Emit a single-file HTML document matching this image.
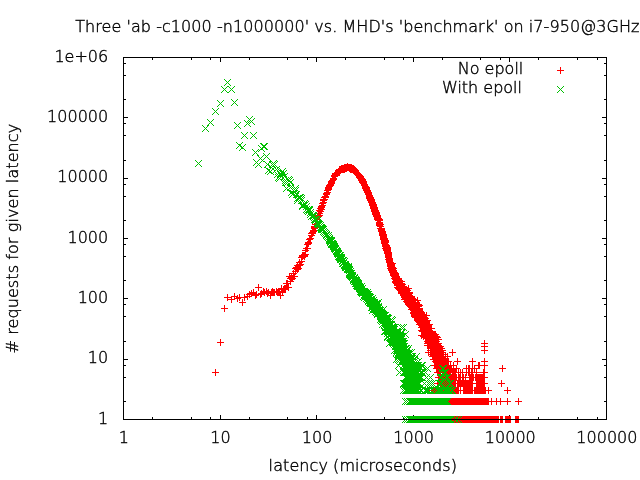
<!DOCTYPE html>
<html><head><meta charset="utf-8"><title>Latency plot</title>
<style>
html,body{margin:0;padding:0;background:#fff;}
body{width:640px;height:480px;overflow:hidden;}
svg{display:block;}
text{font-family:"DejaVu Sans","Liberation Sans",sans-serif;font-size:16px;fill:#000;font-weight:200;stroke:#000;stroke-width:0.4px;}
</style></head><body>
<svg width="640" height="480" viewBox="0 0 640 480">
<rect width="640" height="480" fill="#fff"/>
<g shape-rendering="crispEdges" fill="none" stroke="#000" stroke-width="1"><path d="M152.5 419v-2M152.5 58v2M191.5 419v-2M191.5 58v2M210.5 419v-2M210.5 58v2M220.5 419v-4M220.5 58v4M249.5 419v-2M249.5 58v2M287.5 419v-2M287.5 58v2M307.5 419v-2M307.5 58v2M316.5 419v-4M316.5 58v4M345.5 419v-2M345.5 58v2M384.5 419v-2M384.5 58v2M403.5 419v-2M403.5 58v2M413.5 419v-4M413.5 58v4M442.5 419v-2M442.5 58v2M480.5 419v-2M480.5 58v2M500.5 419v-2M500.5 58v2M509.5 419v-4M509.5 58v4M538.5 419v-2M538.5 58v2M577.5 419v-2M577.5 58v2M597.5 419v-2M597.5 58v2M124 401.5h2M606 401.5h-2M124 377.5h2M606 377.5h-2M124 365.5h2M606 365.5h-2M124 359.5h4M606 359.5h-4M124 341.5h2M606 341.5h-2M124 316.5h2M606 316.5h-2M124 304.5h2M606 304.5h-2M124 298.5h4M606 298.5h-4M124 280.5h2M606 280.5h-2M124 256.5h2M606 256.5h-2M124 244.5h2M606 244.5h-2M124 238.5h4M606 238.5h-4M124 220.5h2M606 220.5h-2M124 196.5h2M606 196.5h-2M124 184.5h2M606 184.5h-2M124 178.5h4M606 178.5h-4M124 160.5h2M606 160.5h-2M124 135.5h2M606 135.5h-2M124 123.5h2M606 123.5h-2M124 117.5h4M606 117.5h-4M124 99.5h2M606 99.5h-2M124 75.5h2M606 75.5h-2M124 63.5h2M606 63.5h-2"/></g>
<g id="labels">
<text x="75.2" y="32.1" textLength="564.2" lengthAdjust="spacing">Three 'ab -c1000 -n1000000' vs. MHD's 'benchmark' on i7-950@3GHz</text>
<text x="123.9" y="443.2" text-anchor="middle">1</text><text x="220.5" y="443.2" text-anchor="middle">10</text><text x="317.1" y="443.2" text-anchor="middle">100</text><text x="413.7" y="443.2" text-anchor="middle">1000</text><text x="510.3" y="443.2" text-anchor="middle">10000</text><text x="606.9" y="443.2" text-anchor="middle">100000</text>
<text x="108.2" y="423.6" text-anchor="end">1</text><text x="108.2" y="363.3" text-anchor="end">10</text><text x="108.2" y="302.9" text-anchor="end">100</text><text x="108.2" y="242.6" text-anchor="end">1000</text><text x="108.2" y="182.3" text-anchor="end">10000</text><text x="108.2" y="121.9" text-anchor="end">100000</text><text x="108.2" y="61.6" text-anchor="end">1e+06</text>
<text x="268.6" y="471" textLength="188.3" lengthAdjust="spacing">latency (microseconds)</text>
<text transform="translate(18.4,353.5) rotate(-90)" textLength="229.7" lengthAdjust="spacing"># requests for given latency</text>
<text x="523.3" y="74.4" text-anchor="end">No epoll</text>
<text x="522" y="93.4" text-anchor="end">With epoll</text>
</g>
<g shape-rendering="crispEdges" fill="none" stroke-width="1">
<path stroke="#ff0000" d="M212 372.5h7M215.5 369v7M217 342.5h7M220.5 339v7M221 308.5h7M224.5 305v7M224 297.5h7M227.5 294v7M228 299.5h7M231.5 296v7M231 296.5h7M234.5 293v7M234 298.5h7M237.5 295v7M236 297.5h7M239.5 294v7M239 302.5h7M242.5 299v7M241 297.5h7M244.5 294v7M244 296.5h7M247.5 293v7M246 294.5h7M249.5 291v7M248 293.5h7M251.5 290v7M250 292.5h7M253.5 289v7M252 295.5h7M255.5 292v7M253 294.5h7M256.5 291v7M255 287.5h7M258.5 284v7M257 294.5h7M260.5 291v7M258 293.5h7M261.5 290v7M260 291.5h7M263.5 288v7M261 292.5h7M264.5 289v7M263 291.5h7M266.5 288v7M264 293.5h7M267.5 290v7M265 292.5h7M268.5 289v7M267 295.5h7M270.5 292v7M268 292.5h7M271.5 289v7M269 291.5h7M272.5 288v7M270 292.5h7M273.5 289v7M271 292.5h7M274.5 289v7M273 291.5h7M276.5 288v7M274 292.5h7M277.5 289v7M275 291.5h7M278.5 288v7M276 291.5h7M279.5 288v7M277 295.5h7M280.5 292v7M278 288.5h7M281.5 285v7M279 292.5h7M282.5 289v7M280 289.5h7M283.5 286v7M281 288.5h7M284.5 285v7M282 288.5h7M285.5 285v7M282 289.5h7M285.5 286v7M283 283.5h7M286.5 280v7M284 283.5h7M287.5 280v7M285 287.5h7M288.5 284v7M286 276.5h7M289.5 273v7M287 278.5h7M290.5 275v7M287 281.5h7M290.5 278v7M288 277.5h7M291.5 274v7M289 278.5h7M292.5 275v7M290 276.5h7M293.5 273v7M290 273.5h7M293.5 270v7M291 276.5h7M294.5 273v7M292 271.5h7M295.5 268v7M292 268.5h7M295.5 265v7M293 267.5h7M296.5 264v7M294 269.5h7M297.5 266v7M294 265.5h7M297.5 262v7M295 268.5h7M298.5 265v7M296 265.5h7M299.5 262v7M296 262.5h7M299.5 259v7M297 264.5h7M300.5 261v7M298 261.5h7M301.5 258v7M298 257.5h7M301.5 254v7M299 255.5h7M302.5 252v7M299 256.5h7M302.5 253v7M300 255.5h7M303.5 252v7M301 256.5h7M304.5 253v7M301 255.5h7M304.5 252v7M302 254.5h7M305.5 251v7M302 250.5h7M305.5 247v7M303 248.5h7M306.5 245v7M304 248.5h7M307.5 245v7M304 244.5h7M307.5 241v7M305 243.5h7M308.5 240v7M305 242.5h7M308.5 239v7M306 239.5h7M309.5 236v7M307 238.5h7M310.5 235v7M308 235.5h7M311.5 232v7M308 233.5h7M311.5 230v7M309 233.5h7M312.5 230v7M309 232.5h7M312.5 229v7M310 231.5h7M313.5 228v7M310 230.5h7M313.5 227v7M311 228.5h7M314.5 225v7M311 227.5h7M314.5 224v7M311 226.5h7M314.5 223v7M312 226.5h7M315.5 223v7M312 224.5h7M315.5 221v7M313 224.5h7M316.5 221v7M313 221.5h7M316.5 218v7M314 221.5h7M317.5 218v7M314 219.5h7M317.5 216v7M314 217.5h7M317.5 214v7M315 216.5h7M318.5 213v7M315 215.5h7M318.5 212v7M316 215.5h7M319.5 212v7M316 213.5h7M319.5 210v7M316 210.5h7M319.5 207v7M317 211.5h7M320.5 208v7M317 208.5h7M320.5 205v7M318 209.5h7M321.5 206v7M318 207.5h7M321.5 204v7M318 206.5h7M321.5 203v7M319 205.5h7M322.5 202v7M319 203.5h7M322.5 200v7M320 202.5h7M323.5 199v7M320 199.5h7M323.5 196v7M320 200.5h7M323.5 197v7M321 199.5h7M324.5 196v7M321 197.5h7M324.5 194v7M322 197.5h7M325.5 194v7M322 196.5h7M325.5 193v7M323 194.5h7M326.5 191v7M323 193.5h7M326.5 190v7M324 192.5h7M327.5 189v7M324 190.5h7M327.5 187v7M325 189.5h7M328.5 186v7M325 188.5h7M328.5 185v7M325 187.5h7M328.5 184v7M326 186.5h7M329.5 183v7M326 185.5h7M329.5 182v7M327 185.5h7M330.5 182v7M327 184.5h7M330.5 181v7M328 182.5h7M331.5 179v7M328 183.5h7M331.5 180v7M328 181.5h7M331.5 178v7M329 180.5h7M332.5 177v7M330 179.5h7M333.5 176v7M330 178.5h7M333.5 175v7M331 176.5h7M334.5 173v7M331 175.5h7M334.5 172v7M332 175.5h7M335.5 172v7M332 174.5h7M335.5 171v7M332 173.5h7M335.5 170v7M333 173.5h7M336.5 170v7M334 172.5h7M337.5 169v7M335 171.5h7M338.5 168v7M336 172.5h7M339.5 169v7M336 171.5h7M339.5 168v7M336 169.5h7M339.5 166v7M337 170.5h7M340.5 167v7M337 169.5h7M340.5 166v7M338 169.5h7M341.5 166v7M338 168.5h7M341.5 165v7M339 168.5h7M342.5 165v7M339 169.5h7M342.5 166v7M340 168.5h7M343.5 165v7M340 169.5h7M343.5 166v7M341 168.5h7M344.5 165v7M341 167.5h7M344.5 164v7M341 169.5h7M344.5 166v7M342 167.5h7M345.5 164v7M342 168.5h7M345.5 165v7M343 168.5h7M346.5 165v7M343 167.5h7M346.5 164v7M344 167.5h7M347.5 164v7M344 166.5h7M347.5 163v7M345 167.5h7M348.5 164v7M346 167.5h7M349.5 164v7M346 168.5h7M349.5 165v7M347 168.5h7M350.5 165v7M347 167.5h7M350.5 164v7M347 169.5h7M350.5 166v7M348 168.5h7M351.5 165v7M348 169.5h7M351.5 166v7M348 167.5h7M351.5 164v7M349 169.5h7M352.5 166v7M349 168.5h7M352.5 165v7M350 168.5h7M353.5 165v7M350 169.5h7M353.5 166v7M350 170.5h7M353.5 167v7M351 169.5h7M354.5 166v7M351 170.5h7M354.5 167v7M352 170.5h7M355.5 167v7M352 171.5h7M355.5 168v7M352 172.5h7M355.5 169v7M353 172.5h7M356.5 169v7M354 173.5h7M357.5 170v7M354 174.5h7M357.5 171v7M355 175.5h7M358.5 172v7M355 174.5h7M358.5 171v7M356 176.5h7M359.5 173v7M356 175.5h7M359.5 172v7M356 177.5h7M359.5 174v7M357 176.5h7M360.5 173v7M357 177.5h7M360.5 174v7M357 178.5h7M360.5 175v7M358 179.5h7M361.5 176v7M358 178.5h7M361.5 175v7M358 180.5h7M361.5 177v7M359 179.5h7M362.5 176v7M359 180.5h7M362.5 177v7M359 181.5h7M362.5 178v7M359 182.5h7M362.5 179v7M360 181.5h7M363.5 178v7M360 183.5h7M363.5 180v7M360 182.5h7M363.5 179v7M361 184.5h7M364.5 181v7M361 185.5h7M364.5 182v7M362 187.5h7M365.5 184v7M362 186.5h7M365.5 183v7M362 188.5h7M365.5 185v7M363 189.5h7M366.5 186v7M363 188.5h7M366.5 185v7M363 187.5h7M366.5 184v7M363 190.5h7M366.5 187v7M364 190.5h7M367.5 187v7M364 191.5h7M367.5 188v7M364 192.5h7M367.5 189v7M365 192.5h7M368.5 189v7M365 193.5h7M368.5 190v7M365 194.5h7M368.5 191v7M366 195.5h7M369.5 192v7M366 196.5h7M369.5 193v7M366 198.5h7M369.5 195v7M366 197.5h7M369.5 194v7M367 198.5h7M370.5 195v7M367 197.5h7M370.5 194v7M367 199.5h7M370.5 196v7M367 200.5h7M370.5 197v7M368 200.5h7M371.5 197v7M368 201.5h7M371.5 198v7M368 199.5h7M371.5 196v7M368 202.5h7M371.5 199v7M369 203.5h7M372.5 200v7M369 202.5h7M372.5 199v7M369 204.5h7M372.5 201v7M369 205.5h7M372.5 202v7M370 205.5h7M373.5 202v7M370 204.5h7M373.5 201v7M370 206.5h7M373.5 203v7M370 207.5h7M373.5 204v7M370 208.5h7M373.5 205v7M371 208.5h7M374.5 205v7M371 207.5h7M374.5 204v7M371 209.5h7M374.5 206v7M371 210.5h7M374.5 207v7M371 211.5h7M374.5 208v7M372 210.5h7M375.5 207v7M372 211.5h7M375.5 208v7M372 212.5h7M375.5 209v7M372 213.5h7M375.5 210v7M372 214.5h7M375.5 211v7M373 213.5h7M376.5 210v7M373 212.5h7M376.5 209v7M373 214.5h7M376.5 211v7M373 215.5h7M376.5 212v7M373 216.5h7M376.5 213v7M374 216.5h7M377.5 213v7M374 215.5h7M377.5 212v7M374 217.5h7M377.5 214v7M374 218.5h7M377.5 215v7M374 219.5h7M377.5 216v7M375 218.5h7M378.5 215v7M375 219.5h7M378.5 216v7M375 220.5h7M378.5 217v7M376 219.5h7M379.5 216v7M376 220.5h7M379.5 217v7M376 222.5h7M379.5 219v7M376 223.5h7M379.5 220v7M376 225.5h7M379.5 222v7M376 224.5h7M379.5 221v7M377 224.5h7M380.5 221v7M377 226.5h7M380.5 223v7M377 228.5h7M380.5 225v7M378 228.5h7M381.5 225v7M378 229.5h7M381.5 226v7M378 230.5h7M381.5 227v7M378 231.5h7M381.5 228v7M379 231.5h7M382.5 228v7M379 234.5h7M382.5 231v7M379 233.5h7M382.5 230v7M379 232.5h7M382.5 229v7M379 235.5h7M382.5 232v7M380 235.5h7M383.5 232v7M380 237.5h7M383.5 234v7M380 234.5h7M383.5 231v7M380 236.5h7M383.5 233v7M380 239.5h7M383.5 236v7M380 238.5h7M383.5 235v7M381 238.5h7M384.5 235v7M381 239.5h7M384.5 236v7M381 240.5h7M384.5 237v7M381 241.5h7M384.5 238v7M381 242.5h7M384.5 239v7M381 243.5h7M384.5 240v7M382 242.5h7M385.5 239v7M382 240.5h7M385.5 237v7M382 241.5h7M385.5 238v7M382 244.5h7M385.5 241v7M382 245.5h7M385.5 242v7M382 246.5h7M385.5 243v7M382 248.5h7M385.5 245v7M383 246.5h7M386.5 243v7M383 245.5h7M386.5 242v7M383 247.5h7M386.5 244v7M383 248.5h7M386.5 245v7M383 250.5h7M386.5 247v7M383 249.5h7M386.5 246v7M384 250.5h7M387.5 247v7M384 249.5h7M387.5 246v7M384 248.5h7M387.5 245v7M384 251.5h7M387.5 248v7M384 252.5h7M387.5 249v7M384 247.5h7M387.5 244v7M384 253.5h7M387.5 250v7M385 252.5h7M388.5 249v7M385 253.5h7M388.5 250v7M385 254.5h7M388.5 251v7M385 255.5h7M388.5 252v7M385 256.5h7M388.5 253v7M385 259.5h7M388.5 256v7M385 257.5h7M388.5 254v7M386 258.5h7M389.5 255v7M386 259.5h7M389.5 256v7M386 260.5h7M389.5 257v7M386 261.5h7M389.5 258v7M386 262.5h7M389.5 259v7M387 262.5h7M390.5 259v7M387 264.5h7M390.5 261v7M387 265.5h7M390.5 262v7M387 263.5h7M390.5 260v7M387 266.5h7M390.5 263v7M387 268.5h7M390.5 265v7M388 267.5h7M391.5 264v7M388 268.5h7M391.5 265v7M388 266.5h7M391.5 263v7M388 265.5h7M391.5 262v7M388 269.5h7M391.5 266v7M388 264.5h7M391.5 261v7M388 270.5h7M391.5 267v7M389 269.5h7M392.5 266v7M389 267.5h7M392.5 264v7M389 263.5h7M392.5 260v7M389 272.5h7M392.5 269v7M389 268.5h7M392.5 265v7M389 270.5h7M392.5 267v7M389 271.5h7M392.5 268v7M390 271.5h7M393.5 268v7M390 272.5h7M393.5 269v7M390 268.5h7M393.5 265v7M390 270.5h7M393.5 267v7M390 274.5h7M393.5 271v7M390 275.5h7M393.5 272v7M390 273.5h7M393.5 270v7M391 272.5h7M394.5 269v7M391 273.5h7M394.5 270v7M391 274.5h7M394.5 271v7M391 276.5h7M394.5 273v7M391 278.5h7M394.5 275v7M391 275.5h7M394.5 272v7M392 276.5h7M395.5 273v7M392 277.5h7M395.5 274v7M392 273.5h7M395.5 270v7M392 279.5h7M395.5 276v7M392 275.5h7M395.5 272v7M392 282.5h7M395.5 279v7M392 274.5h7M395.5 271v7M392 278.5h7M395.5 275v7M392 281.5h7M395.5 278v7M393 281.5h7M396.5 278v7M393 282.5h7M396.5 279v7M393 279.5h7M396.5 276v7M393 280.5h7M396.5 277v7M393 278.5h7M396.5 275v7M393 276.5h7M396.5 273v7M393 283.5h7M396.5 280v7M393 277.5h7M396.5 274v7M394 280.5h7M397.5 277v7M394 278.5h7M397.5 275v7M394 282.5h7M397.5 279v7M394 285.5h7M397.5 282v7M394 287.5h7M397.5 284v7M394 284.5h7M397.5 281v7M394 283.5h7M397.5 280v7M395 279.5h7M398.5 276v7M395 283.5h7M398.5 280v7M395 280.5h7M398.5 277v7M395 287.5h7M398.5 284v7M395 284.5h7M398.5 281v7M395 288.5h7M398.5 285v7M395 281.5h7M398.5 278v7M396 284.5h7M399.5 281v7M396 281.5h7M399.5 278v7M396 282.5h7M399.5 279v7M396 283.5h7M399.5 280v7M396 280.5h7M399.5 277v7M396 285.5h7M399.5 282v7M396 286.5h7M399.5 283v7M396 289.5h7M399.5 286v7M396 287.5h7M399.5 284v7M397 284.5h7M400.5 281v7M397 286.5h7M400.5 283v7M397 285.5h7M400.5 282v7M397 283.5h7M400.5 280v7M397 287.5h7M400.5 284v7M397 288.5h7M400.5 285v7M397 290.5h7M400.5 287v7M398 288.5h7M401.5 285v7M398 283.5h7M401.5 280v7M398 284.5h7M401.5 281v7M398 287.5h7M401.5 284v7M398 293.5h7M401.5 290v7M398 281.5h7M401.5 278v7M398 290.5h7M401.5 287v7M398 289.5h7M401.5 286v7M398 286.5h7M401.5 283v7M398 292.5h7M401.5 289v7M398 285.5h7M401.5 282v7M399 289.5h7M402.5 286v7M399 286.5h7M402.5 283v7M399 284.5h7M402.5 281v7M399 291.5h7M402.5 288v7M399 290.5h7M402.5 287v7M399 288.5h7M402.5 285v7M399 287.5h7M402.5 284v7M399 293.5h7M402.5 290v7M400 289.5h7M403.5 286v7M400 294.5h7M403.5 291v7M400 286.5h7M403.5 283v7M400 293.5h7M403.5 290v7M400 290.5h7M403.5 287v7M400 288.5h7M403.5 285v7M400 292.5h7M403.5 289v7M400 291.5h7M403.5 288v7M400 287.5h7M403.5 284v7M400 295.5h7M403.5 292v7M401 290.5h7M404.5 287v7M401 289.5h7M404.5 286v7M401 288.5h7M404.5 285v7M401 292.5h7M404.5 289v7M401 291.5h7M404.5 288v7M401 297.5h7M404.5 294v7M401 294.5h7M404.5 291v7M401 293.5h7M404.5 290v7M401 299.5h7M404.5 296v7M402 293.5h7M405.5 290v7M402 290.5h7M405.5 287v7M402 291.5h7M405.5 288v7M402 294.5h7M405.5 291v7M402 298.5h7M405.5 295v7M402 295.5h7M405.5 292v7M402 297.5h7M405.5 294v7M402 289.5h7M405.5 286v7M403 293.5h7M406.5 290v7M403 294.5h7M406.5 291v7M403 289.5h7M406.5 286v7M403 295.5h7M406.5 292v7M403 296.5h7M406.5 293v7M403 292.5h7M406.5 289v7M403 298.5h7M406.5 295v7M403 301.5h7M406.5 298v7M404 293.5h7M407.5 290v7M404 296.5h7M407.5 293v7M404 292.5h7M407.5 289v7M404 299.5h7M407.5 296v7M404 290.5h7M407.5 287v7M404 295.5h7M407.5 292v7M404 297.5h7M407.5 294v7M404 298.5h7M407.5 295v7M404 294.5h7M407.5 291v7M404 300.5h7M407.5 297v7M405 297.5h7M408.5 294v7M405 296.5h7M408.5 293v7M405 300.5h7M408.5 297v7M405 288.5h7M408.5 285v7M405 294.5h7M408.5 291v7M405 299.5h7M408.5 296v7M405 295.5h7M408.5 292v7M405 298.5h7M408.5 295v7M405 303.5h7M408.5 300v7M405 304.5h7M408.5 301v7M405 302.5h7M408.5 299v7M406 297.5h7M409.5 294v7M406 292.5h7M409.5 289v7M406 302.5h7M409.5 299v7M406 299.5h7M409.5 296v7M406 298.5h7M409.5 295v7M406 295.5h7M409.5 292v7M406 301.5h7M409.5 298v7M406 305.5h7M409.5 302v7M406 293.5h7M409.5 290v7M406 300.5h7M409.5 297v7M406 303.5h7M409.5 300v7M406 296.5h7M409.5 293v7M407 298.5h7M410.5 295v7M407 302.5h7M410.5 299v7M407 297.5h7M410.5 294v7M407 299.5h7M410.5 296v7M407 301.5h7M410.5 298v7M407 300.5h7M410.5 297v7M407 306.5h7M410.5 303v7M407 303.5h7M410.5 300v7M408 303.5h7M411.5 300v7M408 302.5h7M411.5 299v7M408 297.5h7M411.5 294v7M408 309.5h7M411.5 306v7M408 296.5h7M411.5 293v7M408 298.5h7M411.5 295v7M408 299.5h7M411.5 296v7M408 301.5h7M411.5 298v7M408 305.5h7M411.5 302v7M408 304.5h7M411.5 301v7M408 306.5h7M411.5 303v7M409 303.5h7M412.5 300v7M409 305.5h7M412.5 302v7M409 299.5h7M412.5 296v7M409 302.5h7M412.5 299v7M409 301.5h7M412.5 298v7M409 300.5h7M412.5 297v7M409 308.5h7M412.5 305v7M409 307.5h7M412.5 304v7M409 304.5h7M412.5 301v7M409 298.5h7M412.5 295v7M409 309.5h7M412.5 306v7M410 306.5h7M413.5 303v7M410 303.5h7M413.5 300v7M410 309.5h7M413.5 306v7M410 300.5h7M413.5 297v7M410 299.5h7M413.5 296v7M410 305.5h7M413.5 302v7M410 310.5h7M413.5 307v7M410 308.5h7M413.5 305v7M410 307.5h7M413.5 304v7M410 304.5h7M413.5 301v7M410 312.5h7M413.5 309v7M410 313.5h7M413.5 310v7M410 302.5h7M413.5 299v7M411 304.5h7M414.5 301v7M411 305.5h7M414.5 302v7M411 306.5h7M414.5 303v7M411 314.5h7M414.5 311v7M411 316.5h7M414.5 313v7M411 303.5h7M414.5 300v7M411 315.5h7M414.5 312v7M411 310.5h7M414.5 307v7M411 309.5h7M414.5 306v7M411 308.5h7M414.5 305v7M411 302.5h7M414.5 299v7M411 307.5h7M414.5 304v7M412 312.5h7M415.5 309v7M412 304.5h7M415.5 301v7M412 306.5h7M415.5 303v7M412 317.5h7M415.5 314v7M412 315.5h7M415.5 312v7M412 309.5h7M415.5 306v7M412 313.5h7M415.5 310v7M412 308.5h7M415.5 305v7M412 307.5h7M415.5 304v7M412 305.5h7M415.5 302v7M412 310.5h7M415.5 307v7M412 311.5h7M415.5 308v7M413 315.5h7M416.5 312v7M413 310.5h7M416.5 307v7M413 311.5h7M416.5 308v7M413 312.5h7M416.5 309v7M413 314.5h7M416.5 311v7M413 305.5h7M416.5 302v7M413 308.5h7M416.5 305v7M413 309.5h7M416.5 306v7M413 313.5h7M416.5 310v7M413 307.5h7M416.5 304v7M414 314.5h7M417.5 311v7M414 308.5h7M417.5 305v7M414 320.5h7M417.5 317v7M414 315.5h7M417.5 312v7M414 306.5h7M417.5 303v7M414 311.5h7M417.5 308v7M414 313.5h7M417.5 310v7M414 309.5h7M417.5 306v7M414 300.5h7M417.5 297v7M415 314.5h7M418.5 311v7M415 317.5h7M418.5 314v7M415 308.5h7M418.5 305v7M415 312.5h7M418.5 309v7M415 313.5h7M418.5 310v7M415 310.5h7M418.5 307v7M415 315.5h7M418.5 312v7M415 304.5h7M418.5 301v7M415 316.5h7M418.5 313v7M415 311.5h7M418.5 308v7M415 318.5h7M418.5 315v7M415 306.5h7M418.5 303v7M415 321.5h7M418.5 318v7M415 320.5h7M418.5 317v7M416 319.5h7M419.5 316v7M416 308.5h7M419.5 305v7M416 313.5h7M419.5 310v7M416 310.5h7M419.5 307v7M416 316.5h7M419.5 313v7M416 305.5h7M419.5 302v7M416 314.5h7M419.5 311v7M416 322.5h7M419.5 319v7M416 324.5h7M419.5 321v7M416 315.5h7M419.5 312v7M416 312.5h7M419.5 309v7M416 309.5h7M419.5 306v7M416 311.5h7M419.5 308v7M417 313.5h7M420.5 310v7M417 314.5h7M420.5 311v7M417 322.5h7M420.5 319v7M417 319.5h7M420.5 316v7M417 318.5h7M420.5 315v7M417 316.5h7M420.5 313v7M417 320.5h7M420.5 317v7M417 312.5h7M420.5 309v7M417 311.5h7M420.5 308v7M417 317.5h7M420.5 314v7M418 319.5h7M421.5 316v7M418 323.5h7M421.5 320v7M418 322.5h7M421.5 319v7M418 318.5h7M421.5 315v7M418 335.5h7M421.5 332v7M418 320.5h7M421.5 317v7M418 325.5h7M421.5 322v7M418 317.5h7M421.5 314v7M418 313.5h7M421.5 310v7M418 315.5h7M421.5 312v7M418 330.5h7M421.5 327v7M418 321.5h7M421.5 318v7M418 316.5h7M421.5 313v7M418 314.5h7M421.5 311v7M418 327.5h7M421.5 324v7M418 324.5h7M421.5 321v7M419 324.5h7M422.5 321v7M419 319.5h7M422.5 316v7M419 326.5h7M422.5 323v7M419 316.5h7M422.5 313v7M419 321.5h7M422.5 318v7M419 317.5h7M422.5 314v7M419 327.5h7M422.5 324v7M419 322.5h7M422.5 319v7M419 320.5h7M422.5 317v7M419 318.5h7M422.5 315v7M419 325.5h7M422.5 322v7M419 331.5h7M422.5 328v7M419 314.5h7M422.5 311v7M420 322.5h7M423.5 319v7M420 330.5h7M423.5 327v7M420 326.5h7M423.5 323v7M420 336.5h7M423.5 333v7M420 323.5h7M423.5 320v7M420 328.5h7M423.5 325v7M420 316.5h7M423.5 313v7M420 320.5h7M423.5 317v7M420 318.5h7M423.5 315v7M420 327.5h7M423.5 324v7M420 331.5h7M423.5 328v7M420 329.5h7M423.5 326v7M420 321.5h7M423.5 318v7M420 324.5h7M423.5 321v7M421 324.5h7M424.5 321v7M421 328.5h7M424.5 325v7M421 315.5h7M424.5 312v7M421 319.5h7M424.5 316v7M421 322.5h7M424.5 319v7M421 332.5h7M424.5 329v7M421 325.5h7M424.5 322v7M421 321.5h7M424.5 318v7M421 320.5h7M424.5 317v7M421 326.5h7M424.5 323v7M421 331.5h7M424.5 328v7M421 333.5h7M424.5 330v7M421 329.5h7M424.5 326v7M421 327.5h7M424.5 324v7M422 326.5h7M425.5 323v7M422 328.5h7M425.5 325v7M422 334.5h7M425.5 331v7M422 323.5h7M425.5 320v7M422 330.5h7M425.5 327v7M422 322.5h7M425.5 319v7M422 327.5h7M425.5 324v7M422 318.5h7M425.5 315v7M422 320.5h7M425.5 317v7M422 324.5h7M425.5 321v7M422 337.5h7M425.5 334v7M422 332.5h7M425.5 329v7M422 335.5h7M425.5 332v7M422 333.5h7M425.5 330v7M423 333.5h7M426.5 330v7M423 336.5h7M426.5 333v7M423 331.5h7M426.5 328v7M423 320.5h7M426.5 317v7M423 328.5h7M426.5 325v7M423 329.5h7M426.5 326v7M423 326.5h7M426.5 323v7M423 337.5h7M426.5 334v7M423 327.5h7M426.5 324v7M423 324.5h7M426.5 321v7M423 330.5h7M426.5 327v7M423 332.5h7M426.5 329v7M423 315.5h7M426.5 312v7M423 335.5h7M426.5 332v7M423 338.5h7M426.5 335v7M424 332.5h7M427.5 329v7M424 329.5h7M427.5 326v7M424 328.5h7M427.5 325v7M424 330.5h7M427.5 327v7M424 335.5h7M427.5 332v7M424 345.5h7M427.5 342v7M424 334.5h7M427.5 331v7M424 324.5h7M427.5 321v7M424 327.5h7M427.5 324v7M424 337.5h7M427.5 334v7M424 341.5h7M427.5 338v7M424 343.5h7M427.5 340v7M424 336.5h7M427.5 333v7M424 320.5h7M427.5 317v7M424 326.5h7M427.5 323v7M424 333.5h7M427.5 330v7M424 331.5h7M427.5 328v7M425 335.5h7M428.5 332v7M425 334.5h7M428.5 331v7M425 331.5h7M428.5 328v7M425 333.5h7M428.5 330v7M425 330.5h7M428.5 327v7M425 328.5h7M428.5 325v7M425 332.5h7M428.5 329v7M425 342.5h7M428.5 339v7M425 339.5h7M428.5 336v7M425 329.5h7M428.5 326v7M425 336.5h7M428.5 333v7M425 345.5h7M428.5 342v7M425 338.5h7M428.5 335v7M425 324.5h7M428.5 321v7M425 337.5h7M428.5 334v7M425 327.5h7M428.5 324v7M425 352.5h7M428.5 349v7M425 325.5h7M428.5 322v7M426 335.5h7M429.5 332v7M426 338.5h7M429.5 335v7M426 337.5h7M429.5 334v7M426 341.5h7M429.5 338v7M426 324.5h7M429.5 321v7M426 336.5h7M429.5 333v7M426 332.5h7M429.5 329v7M426 345.5h7M429.5 342v7M426 330.5h7M429.5 327v7M426 343.5h7M429.5 340v7M426 342.5h7M429.5 339v7M426 333.5h7M429.5 330v7M426 339.5h7M429.5 336v7M427 339.5h7M430.5 336v7M427 342.5h7M430.5 339v7M427 334.5h7M430.5 331v7M427 352.5h7M430.5 349v7M427 335.5h7M430.5 332v7M427 341.5h7M430.5 338v7M427 336.5h7M430.5 333v7M427 337.5h7M430.5 334v7M427 343.5h7M430.5 340v7M427 331.5h7M430.5 328v7M427 348.5h7M430.5 345v7M427 346.5h7M430.5 343v7M427 332.5h7M430.5 329v7M427 328.5h7M430.5 325v7M427 345.5h7M430.5 342v7M427 333.5h7M430.5 330v7M427 350.5h7M430.5 347v7M428 336.5h7M431.5 333v7M428 343.5h7M431.5 340v7M428 341.5h7M431.5 338v7M428 345.5h7M431.5 342v7M428 335.5h7M431.5 332v7M428 346.5h7M431.5 343v7M428 333.5h7M431.5 330v7M428 337.5h7M431.5 334v7M428 352.5h7M431.5 349v7M428 342.5h7M431.5 339v7M428 338.5h7M431.5 335v7M428 331.5h7M431.5 328v7M428 350.5h7M431.5 347v7M428 332.5h7M431.5 329v7M428 339.5h7M431.5 336v7M428 328.5h7M431.5 325v7M429 339.5h7M432.5 336v7M429 343.5h7M432.5 340v7M429 341.5h7M432.5 338v7M429 345.5h7M432.5 342v7M429 338.5h7M432.5 335v7M429 348.5h7M432.5 345v7M429 354.5h7M432.5 351v7M429 336.5h7M432.5 333v7M429 337.5h7M432.5 334v7M429 342.5h7M432.5 339v7M429 352.5h7M432.5 349v7M429 346.5h7M432.5 343v7M429 350.5h7M432.5 347v7M429 356.5h7M432.5 353v7M430 359.5h7M433.5 356v7M430 342.5h7M433.5 339v7M430 346.5h7M433.5 343v7M430 338.5h7M433.5 335v7M430 354.5h7M433.5 351v7M430 352.5h7M433.5 349v7M430 339.5h7M433.5 336v7M430 345.5h7M433.5 342v7M430 343.5h7M433.5 340v7M430 341.5h7M433.5 338v7M430 350.5h7M433.5 347v7M430 337.5h7M433.5 334v7M430 356.5h7M433.5 353v7M430 348.5h7M433.5 345v7M430 336.5h7M433.5 333v7M430 335.5h7M433.5 332v7M430 334.5h7M433.5 331v7M431 348.5h7M434.5 345v7M431 345.5h7M434.5 342v7M431 354.5h7M434.5 351v7M431 359.5h7M434.5 356v7M431 352.5h7M434.5 349v7M431 346.5h7M434.5 343v7M431 350.5h7M434.5 347v7M431 356.5h7M434.5 353v7M431 342.5h7M434.5 339v7M431 341.5h7M434.5 338v7M431 343.5h7M434.5 340v7M431 337.5h7M434.5 334v7M431 338.5h7M434.5 335v7M431 365.5h7M434.5 362v7M432 346.5h7M435.5 343v7M432 341.5h7M435.5 338v7M432 352.5h7M435.5 349v7M432 348.5h7M435.5 345v7M432 365.5h7M435.5 362v7M432 343.5h7M435.5 340v7M432 361.5h7M435.5 358v7M432 334.5h7M435.5 331v7M432 359.5h7M435.5 356v7M432 354.5h7M435.5 351v7M432 356.5h7M435.5 353v7M432 345.5h7M435.5 342v7M432 342.5h7M435.5 339v7M433 345.5h7M436.5 342v7M433 343.5h7M436.5 340v7M433 350.5h7M436.5 347v7M433 339.5h7M436.5 336v7M433 354.5h7M436.5 351v7M433 346.5h7M436.5 343v7M433 356.5h7M436.5 353v7M433 368.5h7M436.5 365v7M433 365.5h7M436.5 362v7M433 359.5h7M436.5 356v7M433 336.5h7M436.5 333v7M433 352.5h7M436.5 349v7M433 348.5h7M436.5 345v7M433 341.5h7M436.5 338v7M434 352.5h7M437.5 349v7M434 350.5h7M437.5 347v7M434 359.5h7M437.5 356v7M434 346.5h7M437.5 343v7M434 356.5h7M437.5 353v7M434 354.5h7M437.5 351v7M434 383.5h7M437.5 380v7M434 361.5h7M437.5 358v7M434 365.5h7M437.5 362v7M434 372.5h7M437.5 369v7M434 337.5h7M437.5 334v7M434 343.5h7M437.5 340v7M435 345.5h7M438.5 342v7M435 348.5h7M438.5 345v7M435 383.5h7M438.5 380v7M435 346.5h7M438.5 343v7M435 368.5h7M438.5 365v7M435 361.5h7M438.5 358v7M435 339.5h7M438.5 336v7M435 350.5h7M438.5 347v7M435 359.5h7M438.5 356v7M435 354.5h7M438.5 351v7M435 365.5h7M438.5 362v7M435 352.5h7M438.5 349v7M435 356.5h7M438.5 353v7M435 377.5h7M438.5 374v7M435 372.5h7M438.5 369v7M435 343.5h7M438.5 340v7M436 356.5h7M439.5 353v7M436 368.5h7M439.5 365v7M436 361.5h7M439.5 358v7M436 377.5h7M439.5 374v7M436 350.5h7M439.5 347v7M436 359.5h7M439.5 356v7M436 372.5h7M439.5 369v7M436 365.5h7M439.5 362v7M436 354.5h7M439.5 351v7M436 352.5h7M439.5 349v7M436 346.5h7M439.5 343v7M437 361.5h7M440.5 358v7M437 352.5h7M440.5 349v7M437 368.5h7M440.5 365v7M437 356.5h7M440.5 353v7M437 372.5h7M440.5 369v7M437 350.5h7M440.5 347v7M437 365.5h7M440.5 362v7M437 383.5h7M440.5 380v7M437 354.5h7M440.5 351v7M437 359.5h7M440.5 356v7M437 377.5h7M440.5 374v7M437 346.5h7M440.5 343v7M438 361.5h7M441.5 358v7M438 350.5h7M441.5 347v7M438 359.5h7M441.5 356v7M438 352.5h7M441.5 349v7M438 348.5h7M441.5 345v7M438 368.5h7M441.5 365v7M438 356.5h7M441.5 353v7M438 383.5h7M441.5 380v7M438 365.5h7M441.5 362v7M438 377.5h7M441.5 374v7M438 390.5h7M441.5 387v7M438 354.5h7M441.5 351v7M439 368.5h7M442.5 365v7M439 350.5h7M442.5 347v7M439 359.5h7M442.5 356v7M439 377.5h7M442.5 374v7M439 365.5h7M442.5 362v7M439 361.5h7M442.5 358v7M439 383.5h7M442.5 380v7M439 372.5h7M442.5 369v7M439 356.5h7M442.5 353v7M439 390.5h7M442.5 387v7M439 352.5h7M442.5 349v7M440 365.5h7M443.5 362v7M440 356.5h7M443.5 353v7M440 368.5h7M443.5 365v7M440 372.5h7M443.5 369v7M440 383.5h7M443.5 380v7M440 377.5h7M443.5 374v7M440 401.5h7M443.5 398v7M440 419.5h7M443.5 416v7M440 359.5h7M443.5 356v7M440 390.5h7M443.5 387v7M440 361.5h7M443.5 358v7M440 354.5h7M443.5 351v7M441 372.5h7M444.5 369v7M441 377.5h7M444.5 374v7M441 359.5h7M444.5 356v7M441 390.5h7M444.5 387v7M441 365.5h7M444.5 362v7M441 368.5h7M444.5 365v7M441 383.5h7M444.5 380v7M441 401.5h7M444.5 398v7M442 401.5h7M445.5 398v7M442 383.5h7M445.5 380v7M442 419.5h7M445.5 416v7M442 372.5h7M445.5 369v7M442 361.5h7M445.5 358v7M442 377.5h7M445.5 374v7M442 390.5h7M445.5 387v7M442 368.5h7M445.5 365v7M442 356.5h7M445.5 353v7M442 365.5h7M445.5 362v7M443 372.5h7M446.5 369v7M443 368.5h7M446.5 365v7M443 390.5h7M446.5 387v7M443 383.5h7M446.5 380v7M443 419.5h7M446.5 416v7M443 361.5h7M446.5 358v7M443 365.5h7M446.5 362v7M443 401.5h7M446.5 398v7M443 377.5h7M446.5 374v7M444 383.5h7M447.5 380v7M444 390.5h7M447.5 387v7M444 361.5h7M447.5 358v7M444 401.5h7M447.5 398v7M444 377.5h7M447.5 374v7M444 365.5h7M447.5 362v7M444 356.5h7M447.5 353v7M444 372.5h7M447.5 369v7M444 368.5h7M447.5 365v7M444 419.5h7M447.5 416v7M445 383.5h7M448.5 380v7M445 401.5h7M448.5 398v7M445 368.5h7M448.5 365v7M445 390.5h7M448.5 387v7M445 372.5h7M448.5 369v7M445 419.5h7M448.5 416v7M445 377.5h7M448.5 374v7M445 361.5h7M448.5 358v7M446 401.5h7M449.5 398v7M446 377.5h7M449.5 374v7M446 372.5h7M449.5 369v7M446 390.5h7M449.5 387v7M446 419.5h7M449.5 416v7M446 368.5h7M449.5 365v7M446 383.5h7M449.5 380v7M447 390.5h7M450.5 387v7M447 419.5h7M450.5 416v7M447 401.5h7M450.5 398v7M447 383.5h7M450.5 380v7M447 368.5h7M450.5 365v7M447 377.5h7M450.5 374v7M447 365.5h7M450.5 362v7M448 419.5h7M451.5 416v7M448 390.5h7M451.5 387v7M448 383.5h7M451.5 380v7M448 401.5h7M451.5 398v7M448 368.5h7M451.5 365v7M448 377.5h7M451.5 374v7M481 343.5h7M484.5 340v7M481 346.5h7M484.5 343v7M481 350.5h7M484.5 347v7M481 361.5h7M484.5 358v7M481 372.5h7M484.5 369v7M499 368.5h7M502.5 365v7M498 383.5h7M501.5 380v7M504 390.5h7M507.5 387v7M485 390.5h7M488.5 387v7M469 361.5h7M472.5 358v7M475 365.5h7M478.5 362v7M463 368.5h7M466.5 365v7M454 361.5h7M457.5 358v7M449 352.5h7M452.5 349v7M469 368.5h7M472.5 365v7M427 419.5h7M430.5 416v7M428 419.5h7M431.5 416v7M429 419.5h7M432.5 416v7M430 419.5h7M433.5 416v7M431 419.5h7M434.5 416v7M432 419.5h7M435.5 416v7M433 419.5h7M436.5 416v7M434 419.5h7M437.5 416v7M435 419.5h7M438.5 416v7M436 419.5h7M439.5 416v7M437 419.5h7M440.5 416v7M438 419.5h7M441.5 416v7M439 419.5h7M442.5 416v7M441 419.5h7M444.5 416v7M449 419.5h7M452.5 416v7M450 419.5h7M453.5 416v7M451 419.5h7M454.5 416v7M452 419.5h7M455.5 416v7M453 419.5h7M456.5 416v7M454 419.5h7M457.5 416v7M455 419.5h7M458.5 416v7M456 419.5h7M459.5 416v7M457 419.5h7M460.5 416v7M458 419.5h7M461.5 416v7M459 419.5h7M462.5 416v7M460 419.5h7M463.5 416v7M461 419.5h7M464.5 416v7M462 419.5h7M465.5 416v7M463 419.5h7M466.5 416v7M464 419.5h7M467.5 416v7M465 419.5h7M468.5 416v7M466 419.5h7M469.5 416v7M467 419.5h7M470.5 416v7M468 419.5h7M471.5 416v7M469 419.5h7M472.5 416v7M470 419.5h7M473.5 416v7M471 419.5h7M474.5 416v7M472 419.5h7M475.5 416v7M473 419.5h7M476.5 416v7M474 419.5h7M477.5 416v7M475 419.5h7M478.5 416v7M476 419.5h7M479.5 416v7M477 419.5h7M480.5 416v7M478 419.5h7M481.5 416v7M479 419.5h7M482.5 416v7M480 419.5h7M483.5 416v7M481 419.5h7M484.5 416v7M482 419.5h7M485.5 416v7M483 419.5h7M486.5 416v7M484 419.5h7M487.5 416v7M485 419.5h7M488.5 416v7M486 419.5h7M489.5 416v7M487 419.5h7M490.5 416v7M488 419.5h7M491.5 416v7M489 419.5h7M492.5 416v7M490 419.5h7M493.5 416v7M491 419.5h7M494.5 416v7M492 419.5h7M495.5 416v7M493 419.5h7M496.5 416v7M494 419.5h7M497.5 416v7M495 419.5h7M498.5 416v7M497 419.5h7M500.5 416v7M498 419.5h7M501.5 416v7M499 419.5h7M502.5 416v7M502 419.5h7M505.5 416v7M503 419.5h7M506.5 416v7M504 419.5h7M507.5 416v7M505 419.5h7M508.5 416v7M506 419.5h7M509.5 416v7M507 419.5h7M510.5 416v7M512 419.5h7M515.5 416v7M513 419.5h7M516.5 416v7M514 419.5h7M517.5 416v7M515 419.5h7M518.5 416v7M427 401.5h7M430.5 398v7M428 401.5h7M431.5 398v7M429 401.5h7M432.5 398v7M430 401.5h7M433.5 398v7M431 401.5h7M434.5 398v7M432 401.5h7M435.5 398v7M433 401.5h7M436.5 398v7M434 401.5h7M437.5 398v7M435 401.5h7M438.5 398v7M436 401.5h7M439.5 398v7M437 401.5h7M440.5 398v7M438 401.5h7M441.5 398v7M439 401.5h7M442.5 398v7M449 401.5h7M452.5 398v7M450 401.5h7M453.5 398v7M451 401.5h7M454.5 398v7M452 401.5h7M455.5 398v7M453 401.5h7M456.5 398v7M454 401.5h7M457.5 398v7M455 401.5h7M458.5 398v7M456 401.5h7M459.5 398v7M457 401.5h7M460.5 398v7M458 401.5h7M461.5 398v7M459 401.5h7M462.5 398v7M460 401.5h7M463.5 398v7M461 401.5h7M464.5 398v7M462 401.5h7M465.5 398v7M463 401.5h7M466.5 398v7M464 401.5h7M467.5 398v7M465 401.5h7M468.5 398v7M466 401.5h7M469.5 398v7M467 401.5h7M470.5 398v7M468 401.5h7M471.5 398v7M469 401.5h7M472.5 398v7M470 401.5h7M473.5 398v7M471 401.5h7M474.5 398v7M472 401.5h7M475.5 398v7M473 401.5h7M476.5 398v7M474 401.5h7M477.5 398v7M475 401.5h7M478.5 398v7M476 401.5h7M479.5 398v7M477 401.5h7M480.5 398v7M478 401.5h7M481.5 398v7M479 401.5h7M482.5 398v7M480 401.5h7M483.5 398v7M481 401.5h7M484.5 398v7M482 401.5h7M485.5 398v7M483 401.5h7M486.5 398v7M484 401.5h7M487.5 398v7M485 401.5h7M488.5 398v7M488 401.5h7M491.5 398v7M493 401.5h7M496.5 398v7M497 401.5h7M500.5 398v7M504 401.5h7M507.5 398v7M515 401.5h7M518.5 398v7M449 390.5h7M452.5 387v7M450 390.5h7M453.5 387v7M451 390.5h7M454.5 387v7M452 390.5h7M455.5 387v7M453 390.5h7M456.5 387v7M454 390.5h7M457.5 387v7M455 390.5h7M458.5 387v7M457 390.5h7M460.5 387v7M460 390.5h7M463.5 387v7M461 390.5h7M464.5 387v7M462 390.5h7M465.5 387v7M463 390.5h7M466.5 387v7M464 390.5h7M467.5 387v7M465 390.5h7M468.5 387v7M466 390.5h7M469.5 387v7M467 390.5h7M470.5 387v7M468 390.5h7M471.5 387v7M469 390.5h7M472.5 387v7M471 390.5h7M474.5 387v7M472 390.5h7M475.5 387v7M473 390.5h7M476.5 387v7M474 390.5h7M477.5 387v7M475 390.5h7M478.5 387v7M476 390.5h7M479.5 387v7M477 390.5h7M480.5 387v7M478 390.5h7M481.5 387v7M479 390.5h7M482.5 387v7M480 390.5h7M483.5 387v7M481 390.5h7M484.5 387v7M482 390.5h7M485.5 387v7M449 383.5h7M452.5 380v7M450 383.5h7M453.5 380v7M451 383.5h7M454.5 380v7M452 383.5h7M455.5 380v7M454 383.5h7M457.5 380v7M455 383.5h7M458.5 380v7M456 383.5h7M459.5 380v7M457 383.5h7M460.5 380v7M458 383.5h7M461.5 380v7M459 383.5h7M462.5 380v7M460 383.5h7M463.5 380v7M461 383.5h7M464.5 380v7M462 383.5h7M465.5 380v7M463 383.5h7M466.5 380v7M464 383.5h7M467.5 380v7M465 383.5h7M468.5 380v7M466 383.5h7M469.5 380v7M467 383.5h7M470.5 380v7M468 383.5h7M471.5 380v7M469 383.5h7M472.5 380v7M473 383.5h7M476.5 380v7M474 383.5h7M477.5 380v7M475 383.5h7M478.5 380v7M476 383.5h7M479.5 380v7M477 383.5h7M480.5 380v7M478 383.5h7M481.5 380v7M479 383.5h7M482.5 380v7M480 383.5h7M483.5 380v7M481 383.5h7M484.5 380v7M449 377.5h7M452.5 374v7M450 377.5h7M453.5 374v7M451 377.5h7M454.5 374v7M452 377.5h7M455.5 374v7M453 377.5h7M456.5 374v7M455 377.5h7M458.5 374v7M456 377.5h7M459.5 374v7M457 377.5h7M460.5 374v7M459 377.5h7M462.5 374v7M460 377.5h7M463.5 374v7M462 377.5h7M465.5 374v7M466 377.5h7M469.5 374v7M467 377.5h7M470.5 374v7M468 377.5h7M471.5 374v7M469 377.5h7M472.5 374v7M470 377.5h7M473.5 374v7M472 377.5h7M475.5 374v7M473 377.5h7M476.5 374v7M474 377.5h7M477.5 374v7M475 377.5h7M478.5 374v7M476 377.5h7M479.5 374v7M477 377.5h7M480.5 374v7M478 377.5h7M481.5 374v7M479 377.5h7M482.5 374v7M480 377.5h7M483.5 374v7M481 377.5h7M484.5 374v7M447 372.5h7M450.5 369v7M449 372.5h7M452.5 369v7M450 372.5h7M453.5 369v7M451 372.5h7M454.5 369v7M452 372.5h7M455.5 369v7M455 372.5h7M458.5 369v7M457 372.5h7M460.5 369v7M459 372.5h7M462.5 369v7M463 372.5h7M466.5 369v7M465 372.5h7M468.5 369v7M466 372.5h7M469.5 369v7M468 372.5h7M471.5 369v7M469 372.5h7M472.5 369v7M473 372.5h7M476.5 369v7M480 372.5h7M483.5 369v7M453 368.5h7M456.5 365v7M465 368.5h7M468.5 365v7M466 368.5h7M469.5 365v7M471 368.5h7M474.5 365v7M450 365.5h7M453.5 362v7M476 365.5h7M479.5 362v7M481 365.5h7M484.5 362v7M428 390.5h7M431.5 387v7M429 390.5h7M432.5 387v7M430 390.5h7M433.5 387v7M431 390.5h7M434.5 387v7M432 390.5h7M435.5 387v7M433 390.5h7M436.5 387v7M434 390.5h7M437.5 387v7M435 390.5h7M438.5 387v7M436 390.5h7M439.5 387v7M437 390.5h7M440.5 387v7M557 70.5h7M560.5 67v7"/>
<path stroke="#00c000" d="M195 160l7 7M195 167l7-7M202 125l7 7M202 132l7-7M207 119l7 7M207 126l7-7M212 108l7 7M212 115l7-7M217 100l7 7M217 107l7-7M221 86l7 7M221 93l7-7M224 79l7 7M224 86l7-7M228 86l7 7M228 93l7-7M231 99l7 7M231 106l7-7M234 122l7 7M234 129l7-7M236 142l7 7M236 149l7-7M239 144l7 7M239 151l7-7M241 132l7 7M241 139l7-7M244 120l7 7M244 127l7-7M246 116l7 7M246 123l7-7M248 118l7 7M248 125l7-7M250 132l7 7M250 139l7-7M252 149l7 7M252 156l7-7M253 159l7 7M253 166l7-7M255 161l7 7M255 168l7-7M257 155l7 7M257 162l7-7M258 145l7 7M258 152l7-7M260 143l7 7M260 150l7-7M261 143l7 7M261 150l7-7M263 153l7 7M263 160l7-7M264 161l7 7M264 168l7-7M265 167l7 7M265 174l7-7M267 168l7 7M267 175l7-7M268 164l7 7M268 171l7-7M269 161l7 7M269 168l7-7M270 160l7 7M270 167l7-7M271 161l7 7M271 168l7-7M273 166l7 7M273 173l7-7M274 171l7 7M274 178l7-7M275 174l7 7M275 181l7-7M276 175l7 7M276 182l7-7M277 171l7 7M277 178l7-7M278 169l7 7M278 176l7-7M279 168l7 7M279 175l7-7M280 170l7 7M280 177l7-7M281 173l7 7M281 180l7-7M282 177l7 7M282 184l7-7M282 179l7 7M282 186l7-7M283 185l7 7M283 192l7-7M284 179l7 7M284 186l7-7M285 176l7 7M285 183l7-7M286 177l7 7M286 184l7-7M287 179l7 7M287 186l7-7M287 184l7 7M287 191l7-7M288 189l7 7M288 196l7-7M289 191l7 7M289 198l7-7M290 190l7 7M290 197l7-7M290 187l7 7M290 194l7-7M291 186l7 7M291 193l7-7M292 185l7 7M292 192l7-7M292 187l7 7M292 194l7-7M293 191l7 7M293 198l7-7M294 195l7 7M294 202l7-7M294 197l7 7M294 204l7-7M295 196l7 7M295 203l7-7M296 195l7 7M296 202l7-7M296 194l7 7M296 201l7-7M297 194l7 7M297 201l7-7M298 195l7 7M298 202l7-7M298 197l7 7M298 204l7-7M299 202l7 7M299 209l7-7M299 203l7 7M299 210l7-7M300 202l7 7M300 209l7-7M301 200l7 7M301 207l7-7M302 201l7 7M302 208l7-7M303 203l7 7M303 210l7-7M303 206l7 7M303 213l7-7M304 207l7 7M304 214l7-7M305 208l7 7M305 215l7-7M305 206l7 7M305 213l7-7M306 206l7 7M306 213l7-7M306 207l7 7M306 214l7-7M307 209l7 7M307 216l7-7M307 211l7 7M307 218l7-7M308 213l7 7M308 220l7-7M309 212l7 7M309 219l7-7M310 212l7 7M310 219l7-7M310 213l7 7M310 220l7-7M311 214l7 7M311 221l7-7M311 216l7 7M311 223l7-7M312 217l7 7M312 224l7-7M312 216l7 7M312 223l7-7M313 216l7 7M313 223l7-7M314 217l7 7M314 224l7-7M314 219l7 7M314 226l7-7M314 220l7 7M314 227l7-7M315 220l7 7M315 227l7-7M315 221l7 7M315 228l7-7M316 221l7 7M316 228l7-7M317 222l7 7M317 229l7-7M317 224l7 7M317 231l7-7M318 225l7 7M318 232l7-7M318 224l7 7M318 231l7-7M318 226l7 7M318 233l7-7M319 225l7 7M319 232l7-7M319 226l7 7M319 233l7-7M320 226l7 7M320 233l7-7M320 228l7 7M320 235l7-7M321 229l7 7M321 236l7-7M322 230l7 7M322 237l7-7M323 232l7 7M323 239l7-7M323 231l7 7M323 238l7-7M324 233l7 7M324 240l7-7M325 232l7 7M325 239l7-7M325 234l7 7M325 241l7-7M326 235l7 7M326 242l7-7M326 236l7 7M326 243l7-7M326 237l7 7M326 244l7-7M327 238l7 7M327 245l7-7M327 237l7 7M327 244l7-7M327 239l7 7M327 246l7-7M328 237l7 7M328 244l7-7M328 238l7 7M328 245l7-7M328 240l7 7M328 247l7-7M328 241l7 7M328 248l7-7M329 240l7 7M329 247l7-7M329 241l7 7M329 248l7-7M330 241l7 7M330 248l7-7M330 242l7 7M330 249l7-7M330 243l7 7M330 250l7-7M331 244l7 7M331 251l7-7M331 243l7 7M331 250l7-7M331 245l7 7M331 252l7-7M332 246l7 7M332 253l7-7M332 245l7 7M332 252l7-7M333 247l7 7M333 254l7-7M333 248l7 7M333 255l7-7M334 249l7 7M334 256l7-7M334 248l7 7M334 255l7-7M334 250l7 7M334 257l7-7M335 250l7 7M335 257l7-7M335 251l7 7M335 258l7-7M335 253l7 7M335 260l7-7M336 253l7 7M336 260l7-7M336 252l7 7M336 259l7-7M336 254l7 7M336 261l7-7M337 252l7 7M337 259l7-7M337 256l7 7M337 263l7-7M337 254l7 7M337 261l7-7M337 255l7 7M337 262l7-7M338 255l7 7M338 262l7-7M338 256l7 7M338 263l7-7M338 254l7 7M338 261l7-7M339 257l7 7M339 264l7-7M339 260l7 7M339 267l7-7M339 258l7 7M339 265l7-7M340 260l7 7M340 267l7-7M340 257l7 7M340 264l7-7M340 259l7 7M340 266l7-7M341 261l7 7M341 268l7-7M341 258l7 7M341 265l7-7M341 262l7 7M341 269l7-7M342 264l7 7M342 271l7-7M342 263l7 7M342 270l7-7M342 262l7 7M342 269l7-7M342 261l7 7M342 268l7-7M343 264l7 7M343 271l7-7M343 263l7 7M343 270l7-7M344 265l7 7M344 272l7-7M344 266l7 7M344 273l7-7M345 264l7 7M345 271l7-7M345 266l7 7M345 273l7-7M345 265l7 7M345 272l7-7M345 263l7 7M345 270l7-7M346 266l7 7M346 273l7-7M346 270l7 7M346 277l7-7M346 267l7 7M346 274l7-7M346 271l7 7M346 278l7-7M346 269l7 7M346 276l7-7M347 272l7 7M347 279l7-7M347 271l7 7M347 278l7-7M347 270l7 7M347 277l7-7M347 268l7 7M347 275l7-7M348 270l7 7M348 277l7-7M348 272l7 7M348 279l7-7M348 273l7 7M348 280l7-7M349 272l7 7M349 279l7-7M349 274l7 7M349 281l7-7M349 273l7 7M349 280l7-7M350 275l7 7M350 282l7-7M350 276l7 7M350 283l7-7M350 277l7 7M350 284l7-7M351 274l7 7M351 281l7-7M351 275l7 7M351 282l7-7M351 278l7 7M351 285l7-7M352 278l7 7M352 285l7-7M352 277l7 7M352 284l7-7M352 276l7 7M352 283l7-7M352 280l7 7M352 287l7-7M353 277l7 7M353 284l7-7M353 279l7 7M353 286l7-7M353 278l7 7M353 285l7-7M353 282l7 7M353 289l7-7M353 280l7 7M353 287l7-7M354 283l7 7M354 290l7-7M354 279l7 7M354 286l7-7M354 280l7 7M354 287l7-7M354 282l7 7M354 289l7-7M354 281l7 7M354 288l7-7M355 282l7 7M355 289l7-7M355 281l7 7M355 288l7-7M355 280l7 7M355 287l7-7M355 283l7 7M355 290l7-7M356 284l7 7M356 291l7-7M356 283l7 7M356 290l7-7M356 285l7 7M356 292l7-7M357 286l7 7M357 293l7-7M357 285l7 7M357 292l7-7M357 284l7 7M357 291l7-7M357 288l7 7M357 295l7-7M358 288l7 7M358 295l7-7M358 286l7 7M358 293l7-7M358 283l7 7M358 290l7-7M358 289l7 7M358 296l7-7M358 287l7 7M358 294l7-7M359 288l7 7M359 295l7-7M359 285l7 7M359 292l7-7M359 290l7 7M359 297l7-7M359 289l7 7M359 296l7-7M360 289l7 7M360 296l7-7M360 288l7 7M360 295l7-7M360 293l7 7M360 300l7-7M361 292l7 7M361 299l7-7M361 291l7 7M361 298l7-7M361 289l7 7M361 296l7-7M361 288l7 7M361 295l7-7M361 294l7 7M361 301l7-7M362 291l7 7M362 298l7-7M362 289l7 7M362 296l7-7M362 290l7 7M362 297l7-7M362 292l7 7M362 299l7-7M363 293l7 7M363 300l7-7M363 295l7 7M363 302l7-7M363 292l7 7M363 299l7-7M363 291l7 7M363 298l7-7M364 289l7 7M364 296l7-7M364 294l7 7M364 301l7-7M364 296l7 7M364 303l7-7M364 293l7 7M364 300l7-7M364 292l7 7M364 299l7-7M364 291l7 7M364 298l7-7M365 294l7 7M365 301l7-7M365 291l7 7M365 298l7-7M365 297l7 7M365 304l7-7M365 298l7 7M365 305l7-7M365 293l7 7M365 300l7-7M366 295l7 7M366 302l7-7M366 293l7 7M366 300l7-7M366 297l7 7M366 304l7-7M366 299l7 7M366 306l7-7M366 294l7 7M366 301l7-7M367 298l7 7M367 305l7-7M367 296l7 7M367 303l7-7M367 299l7 7M367 306l7-7M367 297l7 7M367 304l7-7M367 294l7 7M367 301l7-7M367 300l7 7M367 307l7-7M368 296l7 7M368 303l7-7M368 297l7 7M368 304l7-7M368 298l7 7M368 305l7-7M368 299l7 7M368 306l7-7M368 300l7 7M368 307l7-7M368 304l7 7M368 311l7-7M369 301l7 7M369 308l7-7M369 300l7 7M369 307l7-7M369 295l7 7M369 302l7-7M369 299l7 7M369 306l7-7M369 304l7 7M369 311l7-7M369 302l7 7M369 309l7-7M369 298l7 7M369 305l7-7M369 307l7 7M369 314l7-7M370 299l7 7M370 306l7-7M370 301l7 7M370 308l7-7M370 302l7 7M370 309l7-7M370 300l7 7M370 307l7-7M370 297l7 7M370 304l7-7M370 305l7 7M370 312l7-7M371 302l7 7M371 309l7-7M371 301l7 7M371 308l7-7M371 303l7 7M371 310l7-7M371 306l7 7M371 313l7-7M371 299l7 7M371 306l7-7M371 300l7 7M371 307l7-7M372 306l7 7M372 313l7-7M372 301l7 7M372 308l7-7M372 303l7 7M372 310l7-7M372 304l7 7M372 311l7-7M372 305l7 7M372 312l7-7M372 308l7 7M372 315l7-7M373 300l7 7M373 307l7-7M373 306l7 7M373 313l7-7M373 304l7 7M373 311l7-7M373 301l7 7M373 308l7-7M373 307l7 7M373 314l7-7M373 309l7 7M373 316l7-7M373 302l7 7M373 309l7-7M374 307l7 7M374 314l7-7M374 306l7 7M374 313l7-7M374 308l7 7M374 315l7-7M374 300l7 7M374 307l7-7M374 304l7 7M374 311l7-7M374 301l7 7M374 308l7-7M374 311l7 7M374 318l7-7M374 305l7 7M374 312l7-7M374 310l7 7M374 317l7-7M375 307l7 7M375 314l7-7M375 303l7 7M375 310l7-7M375 304l7 7M375 311l7-7M375 309l7 7M375 316l7-7M375 299l7 7M375 306l7-7M375 305l7 7M375 312l7-7M375 310l7 7M375 317l7-7M375 308l7 7M375 315l7-7M376 309l7 7M376 316l7-7M376 310l7 7M376 317l7-7M376 306l7 7M376 313l7-7M376 308l7 7M376 315l7-7M376 307l7 7M376 314l7-7M377 307l7 7M377 314l7-7M377 310l7 7M377 317l7-7M377 313l7 7M377 320l7-7M377 309l7 7M377 316l7-7M377 312l7 7M377 319l7-7M377 316l7 7M377 323l7-7M377 311l7 7M377 318l7-7M378 312l7 7M378 319l7-7M378 308l7 7M378 315l7-7M378 317l7 7M378 324l7-7M378 315l7 7M378 322l7-7M378 313l7 7M378 320l7-7M378 309l7 7M378 316l7-7M378 314l7 7M378 321l7-7M379 313l7 7M379 320l7-7M379 316l7 7M379 323l7-7M379 315l7 7M379 322l7-7M379 310l7 7M379 317l7-7M379 318l7 7M379 325l7-7M379 321l7 7M379 328l7-7M379 311l7 7M379 318l7-7M379 312l7 7M379 319l7-7M380 311l7 7M380 318l7-7M380 317l7 7M380 324l7-7M380 312l7 7M380 319l7-7M380 314l7 7M380 321l7-7M380 315l7 7M380 322l7-7M380 306l7 7M380 313l7-7M380 316l7 7M380 323l7-7M380 313l7 7M380 320l7-7M381 321l7 7M381 328l7-7M381 312l7 7M381 319l7-7M381 328l7 7M381 335l7-7M381 316l7 7M381 323l7-7M381 315l7 7M381 322l7-7M381 319l7 7M381 326l7-7M381 313l7 7M381 320l7-7M382 315l7 7M382 322l7-7M382 312l7 7M382 319l7-7M382 324l7 7M382 331l7-7M382 328l7 7M382 335l7-7M382 319l7 7M382 326l7-7M382 317l7 7M382 324l7-7M382 320l7 7M382 327l7-7M383 319l7 7M383 326l7-7M383 320l7 7M383 327l7-7M383 317l7 7M383 324l7-7M383 316l7 7M383 323l7-7M383 321l7 7M383 328l7-7M383 318l7 7M383 325l7-7M383 314l7 7M383 321l7-7M383 324l7 7M383 331l7-7M384 318l7 7M384 325l7-7M384 333l7 7M384 340l7-7M384 321l7 7M384 328l7-7M384 330l7 7M384 337l7-7M384 334l7 7M384 341l7-7M384 314l7 7M384 321l7-7M384 323l7 7M384 330l7-7M384 316l7 7M384 323l7-7M384 319l7 7M384 326l7-7M384 315l7 7M384 322l7-7M385 325l7 7M385 332l7-7M385 326l7 7M385 333l7-7M385 322l7 7M385 329l7-7M385 319l7 7M385 326l7-7M385 327l7 7M385 334l7-7M385 324l7 7M385 331l7-7M385 315l7 7M385 322l7-7M385 323l7 7M385 330l7-7M385 321l7 7M385 328l7-7M386 325l7 7M386 332l7-7M386 324l7 7M386 331l7-7M386 328l7 7M386 335l7-7M386 340l7 7M386 347l7-7M386 326l7 7M386 333l7-7M386 331l7 7M386 338l7-7M386 321l7 7M386 328l7-7M387 330l7 7M387 337l7-7M387 339l7 7M387 346l7-7M387 325l7 7M387 332l7-7M387 327l7 7M387 334l7-7M387 321l7 7M387 328l7-7M387 331l7 7M387 338l7-7M387 334l7 7M387 341l7-7M387 328l7 7M387 335l7-7M388 327l7 7M388 334l7-7M388 331l7 7M388 338l7-7M388 328l7 7M388 335l7-7M388 316l7 7M388 323l7-7M388 321l7 7M388 328l7-7M388 324l7 7M388 331l7-7M388 333l7 7M388 340l7-7M388 330l7 7M388 337l7-7M388 329l7 7M388 336l7-7M388 335l7 7M388 342l7-7M389 334l7 7M389 341l7-7M389 339l7 7M389 346l7-7M389 326l7 7M389 333l7-7M389 332l7 7M389 339l7-7M389 338l7 7M389 345l7-7M389 333l7 7M389 340l7-7M389 324l7 7M389 331l7-7M389 327l7 7M389 334l7-7M389 317l7 7M389 324l7-7M389 323l7 7M389 330l7-7M389 336l7 7M389 343l7-7M389 325l7 7M389 332l7-7M390 331l7 7M390 338l7-7M390 329l7 7M390 336l7-7M390 326l7 7M390 333l7-7M390 325l7 7M390 332l7-7M390 324l7 7M390 331l7-7M390 328l7 7M390 335l7-7M390 334l7 7M390 341l7-7M390 340l7 7M390 347l7-7M390 339l7 7M390 346l7-7M390 332l7 7M390 339l7-7M391 347l7 7M391 354l7-7M391 334l7 7M391 341l7-7M391 324l7 7M391 331l7-7M391 335l7 7M391 342l7-7M391 338l7 7M391 345l7-7M391 330l7 7M391 337l7-7M391 326l7 7M391 333l7-7M391 333l7 7M391 340l7-7M391 332l7 7M391 339l7-7M392 332l7 7M392 339l7-7M392 335l7 7M392 342l7-7M392 330l7 7M392 337l7-7M392 342l7 7M392 349l7-7M392 336l7 7M392 343l7-7M392 340l7 7M392 347l7-7M392 329l7 7M392 336l7-7M392 339l7 7M392 346l7-7M392 333l7 7M392 340l7-7M392 343l7 7M392 350l7-7M393 328l7 7M393 335l7-7M393 334l7 7M393 341l7-7M393 336l7 7M393 343l7-7M393 338l7 7M393 345l7-7M393 342l7 7M393 349l7-7M393 333l7 7M393 340l7-7M393 340l7 7M393 347l7-7M393 356l7 7M393 363l7-7M393 349l7 7M393 356l7-7M393 347l7 7M393 354l7-7M394 331l7 7M394 338l7-7M394 342l7 7M394 349l7-7M394 340l7 7M394 347l7-7M394 334l7 7M394 341l7-7M394 343l7 7M394 350l7-7M394 345l7 7M394 352l7-7M394 336l7 7M394 343l7-7M394 329l7 7M394 336l7-7M394 335l7 7M394 342l7-7M394 347l7 7M394 354l7-7M394 339l7 7M394 346l7-7M395 336l7 7M395 343l7-7M395 342l7 7M395 349l7-7M395 351l7 7M395 358l7-7M395 338l7 7M395 345l7-7M395 353l7 7M395 360l7-7M395 340l7 7M395 347l7-7M395 345l7 7M395 352l7-7M395 356l7 7M395 363l7-7M395 347l7 7M395 354l7-7M395 334l7 7M395 341l7-7M395 362l7 7M395 369l7-7M395 349l7 7M395 356l7-7M396 338l7 7M396 345l7-7M396 349l7 7M396 356l7-7M396 343l7 7M396 350l7-7M396 335l7 7M396 342l7-7M396 339l7 7M396 346l7-7M396 345l7 7M396 352l7-7M396 340l7 7M396 347l7-7M396 328l7 7M396 335l7-7M396 369l7 7M396 376l7-7M396 347l7 7M396 354l7-7M396 351l7 7M396 358l7-7M397 333l7 7M397 340l7-7M397 342l7 7M397 349l7-7M397 356l7 7M397 363l7-7M397 340l7 7M397 347l7-7M397 334l7 7M397 341l7-7M397 345l7 7M397 352l7-7M397 343l7 7M397 350l7-7M397 347l7 7M397 354l7-7M397 339l7 7M397 346l7-7M397 351l7 7M397 358l7-7M397 331l7 7M397 338l7-7M397 349l7 7M397 356l7-7M398 343l7 7M398 350l7-7M398 358l7 7M398 365l7-7M398 347l7 7M398 354l7-7M398 336l7 7M398 343l7-7M398 324l7 7M398 331l7-7M398 351l7 7M398 358l7-7M398 345l7 7M398 352l7-7M398 329l7 7M398 336l7-7M398 340l7 7M398 347l7-7M398 353l7 7M398 360l7-7M399 349l7 7M399 356l7-7M399 334l7 7M399 341l7-7M399 333l7 7M399 340l7-7M399 340l7 7M399 347l7-7M399 338l7 7M399 345l7-7M399 343l7 7M399 350l7-7M399 351l7 7M399 358l7-7M399 358l7 7M399 365l7-7M399 347l7 7M399 354l7-7M399 356l7 7M399 363l7-7M400 345l7 7M400 352l7-7M400 356l7 7M400 363l7-7M400 353l7 7M400 360l7-7M400 343l7 7M400 350l7-7M400 347l7 7M400 354l7-7M400 340l7 7M400 347l7-7M400 358l7 7M400 365l7-7M400 351l7 7M400 358l7-7M400 338l7 7M400 345l7-7M400 324l7 7M400 331l7-7M401 349l7 7M401 356l7-7M401 347l7 7M401 354l7-7M401 358l7 7M401 365l7-7M401 340l7 7M401 347l7-7M401 353l7 7M401 360l7-7M401 356l7 7M401 363l7-7M401 343l7 7M401 350l7-7M402 358l7 7M402 365l7-7M402 351l7 7M402 358l7-7M402 331l7 7M402 338l7-7M402 356l7 7M402 363l7-7M402 353l7 7M402 360l7-7M402 345l7 7M402 352l7-7M402 349l7 7M402 356l7-7M403 351l7 7M403 358l7-7M403 349l7 7M403 356l7-7M403 347l7 7M403 354l7-7M403 353l7 7M403 360l7-7M403 358l7 7M403 365l7-7M403 345l7 7M403 352l7-7M404 347l7 7M404 354l7-7M404 358l7 7M404 365l7-7M404 356l7 7M404 363l7-7M404 351l7 7M404 358l7-7M405 351l7 7M405 358l7-7M405 356l7 7M405 363l7-7M405 345l7 7M405 352l7-7M405 358l7 7M405 365l7-7M406 353l7 7M406 360l7-7M406 349l7 7M406 356l7-7M406 358l7 7M406 365l7-7M406 356l7 7M406 363l7-7M407 358l7 7M407 365l7-7M407 356l7 7M407 363l7-7M408 356l7 7M408 363l7-7M408 349l7 7M408 356l7-7M408 358l7 7M408 365l7-7M408 353l7 7M408 360l7-7M409 353l7 7M409 360l7-7M409 358l7 7M409 365l7-7M411 356l7 7M411 363l7-7M411 358l7 7M411 365l7-7M413 353l7 7M413 360l7-7M415 358l7 7M415 365l7-7M402 416l7 7M402 423l7-7M404 416l7 7M404 423l7-7M406 416l7 7M406 423l7-7M407 416l7 7M407 423l7-7M408 416l7 7M408 423l7-7M409 416l7 7M409 423l7-7M410 416l7 7M410 423l7-7M411 416l7 7M411 423l7-7M412 416l7 7M412 423l7-7M413 416l7 7M413 423l7-7M414 416l7 7M414 423l7-7M415 416l7 7M415 423l7-7M416 416l7 7M416 423l7-7M417 416l7 7M417 423l7-7M418 416l7 7M418 423l7-7M419 416l7 7M419 423l7-7M420 416l7 7M420 423l7-7M421 416l7 7M421 423l7-7M422 416l7 7M422 423l7-7M423 416l7 7M423 423l7-7M424 416l7 7M424 423l7-7M425 416l7 7M425 423l7-7M426 416l7 7M426 423l7-7M427 416l7 7M427 423l7-7M428 416l7 7M428 423l7-7M429 416l7 7M429 423l7-7M430 416l7 7M430 423l7-7M431 416l7 7M431 423l7-7M432 416l7 7M432 423l7-7M433 416l7 7M433 423l7-7M434 416l7 7M434 423l7-7M435 416l7 7M435 423l7-7M436 416l7 7M436 423l7-7M437 416l7 7M437 423l7-7M438 416l7 7M438 423l7-7M439 416l7 7M439 423l7-7M440 416l7 7M440 423l7-7M441 416l7 7M441 423l7-7M442 416l7 7M442 423l7-7M443 416l7 7M443 423l7-7M444 416l7 7M444 423l7-7M445 416l7 7M445 423l7-7M446 416l7 7M446 423l7-7M447 416l7 7M447 423l7-7M452 416l7 7M452 423l7-7M455 416l7 7M455 423l7-7M402 398l7 7M402 405l7-7M404 398l7 7M404 405l7-7M406 398l7 7M406 405l7-7M407 398l7 7M407 405l7-7M408 398l7 7M408 405l7-7M409 398l7 7M409 405l7-7M410 398l7 7M410 405l7-7M411 398l7 7M411 405l7-7M412 398l7 7M412 405l7-7M413 398l7 7M413 405l7-7M414 398l7 7M414 405l7-7M415 398l7 7M415 405l7-7M416 398l7 7M416 405l7-7M417 398l7 7M417 405l7-7M418 398l7 7M418 405l7-7M419 398l7 7M419 405l7-7M420 398l7 7M420 405l7-7M421 398l7 7M421 405l7-7M422 398l7 7M422 405l7-7M423 398l7 7M423 405l7-7M424 398l7 7M424 405l7-7M425 398l7 7M425 405l7-7M426 398l7 7M426 405l7-7M427 398l7 7M427 405l7-7M428 398l7 7M428 405l7-7M429 398l7 7M429 405l7-7M430 398l7 7M430 405l7-7M431 398l7 7M431 405l7-7M432 398l7 7M432 405l7-7M433 398l7 7M433 405l7-7M434 398l7 7M434 405l7-7M435 398l7 7M435 405l7-7M436 398l7 7M436 405l7-7M437 398l7 7M437 405l7-7M438 398l7 7M438 405l7-7M439 398l7 7M439 405l7-7M440 398l7 7M440 405l7-7M441 398l7 7M441 405l7-7M442 398l7 7M442 405l7-7M443 398l7 7M443 405l7-7M444 398l7 7M444 405l7-7M400 387l7 7M400 394l7-7M402 387l7 7M402 394l7-7M403 387l7 7M403 394l7-7M404 387l7 7M404 394l7-7M405 387l7 7M405 394l7-7M406 387l7 7M406 394l7-7M407 387l7 7M407 394l7-7M408 387l7 7M408 394l7-7M409 387l7 7M409 394l7-7M410 387l7 7M410 394l7-7M411 387l7 7M411 394l7-7M412 387l7 7M412 394l7-7M413 387l7 7M413 394l7-7M414 387l7 7M414 394l7-7M415 387l7 7M415 394l7-7M417 387l7 7M417 394l7-7M418 387l7 7M418 394l7-7M400 380l7 7M400 387l7-7M401 380l7 7M401 387l7-7M402 380l7 7M402 387l7-7M403 380l7 7M403 387l7-7M404 380l7 7M404 387l7-7M405 380l7 7M405 387l7-7M406 380l7 7M406 387l7-7M407 380l7 7M407 387l7-7M408 380l7 7M408 387l7-7M409 380l7 7M409 387l7-7M410 380l7 7M410 387l7-7M411 380l7 7M411 387l7-7M412 380l7 7M412 387l7-7M413 380l7 7M413 387l7-7M414 380l7 7M414 387l7-7M415 380l7 7M415 387l7-7M416 380l7 7M416 387l7-7M402 374l7 7M402 381l7-7M403 374l7 7M403 381l7-7M404 374l7 7M404 381l7-7M405 374l7 7M405 381l7-7M406 374l7 7M406 381l7-7M407 374l7 7M407 381l7-7M408 374l7 7M408 381l7-7M409 374l7 7M409 381l7-7M410 374l7 7M410 381l7-7M411 374l7 7M411 381l7-7M412 374l7 7M412 381l7-7M413 374l7 7M413 381l7-7M414 374l7 7M414 381l7-7M415 374l7 7M415 381l7-7M416 374l7 7M416 381l7-7M417 374l7 7M417 381l7-7M418 374l7 7M418 381l7-7M400 369l7 7M400 376l7-7M401 369l7 7M401 376l7-7M402 369l7 7M402 376l7-7M403 369l7 7M403 376l7-7M404 369l7 7M404 376l7-7M405 369l7 7M405 376l7-7M406 369l7 7M406 376l7-7M407 369l7 7M407 376l7-7M408 369l7 7M408 376l7-7M409 369l7 7M409 376l7-7M410 369l7 7M410 376l7-7M411 369l7 7M411 376l7-7M412 369l7 7M412 376l7-7M413 369l7 7M413 376l7-7M414 369l7 7M414 376l7-7M415 369l7 7M415 376l7-7M417 369l7 7M417 376l7-7M418 369l7 7M418 376l7-7M419 369l7 7M419 376l7-7M402 365l7 7M402 372l7-7M403 365l7 7M403 372l7-7M404 365l7 7M404 372l7-7M405 365l7 7M405 372l7-7M406 365l7 7M406 372l7-7M407 365l7 7M407 372l7-7M408 365l7 7M408 372l7-7M409 365l7 7M409 372l7-7M410 365l7 7M410 372l7-7M411 365l7 7M411 372l7-7M412 365l7 7M412 372l7-7M413 365l7 7M413 372l7-7M414 365l7 7M414 372l7-7M415 365l7 7M415 372l7-7M417 365l7 7M417 372l7-7M400 362l7 7M400 369l7-7M402 362l7 7M402 369l7-7M403 362l7 7M403 369l7-7M404 362l7 7M404 369l7-7M405 362l7 7M405 369l7-7M406 362l7 7M406 369l7-7M407 362l7 7M407 369l7-7M408 362l7 7M408 369l7-7M409 362l7 7M409 369l7-7M410 362l7 7M410 369l7-7M411 362l7 7M411 369l7-7M412 362l7 7M412 369l7-7M413 362l7 7M413 369l7-7M414 362l7 7M414 369l7-7M415 362l7 7M415 369l7-7M418 362l7 7M418 369l7-7M419 362l7 7M419 369l7-7M427 387l7 7M427 394l7-7M427 380l7 7M427 387l7-7M427 374l7 7M427 381l7-7M424 387l7 7M424 394l7-7M430 387l7 7M430 394l7-7M425 380l7 7M425 387l7-7M432 387l7 7M432 394l7-7M423 374l7 7M423 381l7-7M422 369l7 7M422 376l7-7M424 365l7 7M424 372l7-7M429 380l7 7M429 387l7-7M423 387l7 7M423 394l7-7M425 387l7 7M425 394l7-7M421 380l7 7M421 387l7-7M422 387l7 7M422 394l7-7M434 387l7 7M434 394l7-7M435 387l7 7M435 394l7-7M436 387l7 7M436 394l7-7M437 387l7 7M437 394l7-7M438 387l7 7M438 394l7-7M439 387l7 7M439 394l7-7M441 387l7 7M441 394l7-7M442 387l7 7M442 394l7-7M443 387l7 7M443 394l7-7M444 387l7 7M444 394l7-7M445 387l7 7M445 394l7-7M446 387l7 7M446 394l7-7M448 387l7 7M448 394l7-7M449 387l7 7M449 394l7-7M436 380l7 7M436 387l7-7M437 380l7 7M437 387l7-7M438 380l7 7M438 387l7-7M440 380l7 7M440 387l7-7M442 380l7 7M442 387l7-7M444 380l7 7M444 387l7-7M446 380l7 7M446 387l7-7M447 380l7 7M447 387l7-7M437 374l7 7M437 381l7-7M438 374l7 7M438 381l7-7M441 374l7 7M441 381l7-7M443 374l7 7M443 381l7-7M444 374l7 7M444 381l7-7M438 369l7 7M438 376l7-7M441 369l7 7M441 376l7-7M442 369l7 7M442 376l7-7M439 365l7 7M439 372l7-7M440 365l7 7M440 372l7-7M557 86l7 7M557 93l7-7"/>
</g>
<g shape-rendering="crispEdges" fill="none" stroke="#000" stroke-width="1">
<rect x="123.5" y="57.5" width="483" height="362"/>
</g>
</svg>
</body></html>
